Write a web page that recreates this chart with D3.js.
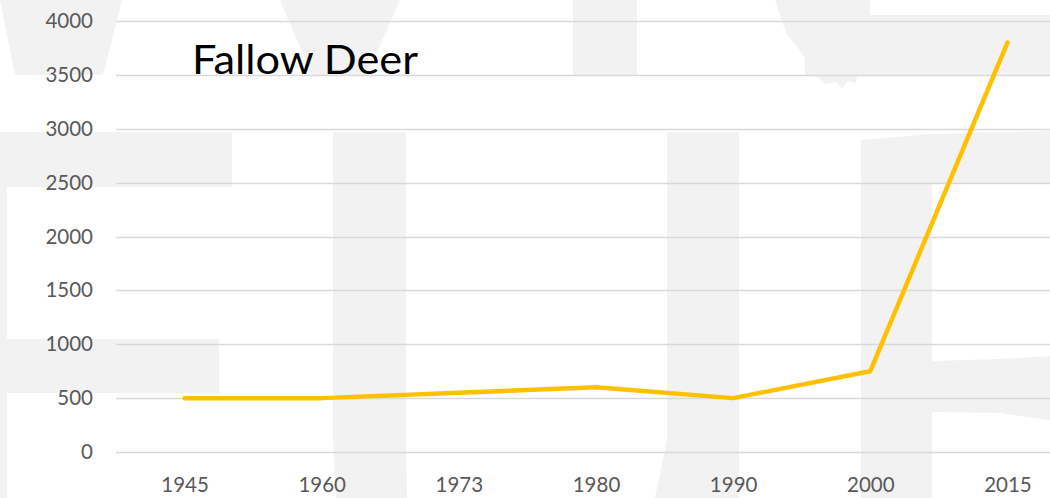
<!DOCTYPE html>
<html>
<head>
<meta charset="utf-8">
<script src="https://cdn.jsdelivr.net/npm/d3@7"></script>
<style>
html,body{margin:0;padding:0;background:#fff;overflow:hidden;}
svg{display:block;}
</style>
</head>
<body>
<svg id="chart" width="1050" height="498"></svg>
<script>
const years = ["1945","1960","1973","1980","1990","2000","2015"];
const deer = [500, 500, 550, 600, 500, 750, 3800];
const yTicks = [0,500,1000,1500,2000,2500,3000,3500,4000];
const title = "Fallow Deer";

const W = 1050, H = 498;
const svg = d3.select("#chart");

// faint background watermark shapes
const wm = svg.append("g").attr("fill","#f2f2f2");
const shapes = [
  [[0,0],[122,0],[103,75],[15,75]],
  [[280,0],[400,0],[367,75],[312,75]],
  [[0,132],[232,132],[232,187],[7,187],[7,339],[219,339],[219,393],[7,393],[7,498],[0,498]],
  [[333,132],[406,132],[406,438],[407,498],[336,498],[333,438]],
  [[573,0],[637,0],[637,75],[573,75]],
  [[667,132],[739,132],[739,498],[655,498],[667,440]],
  [[775,0],[870,0],[870,15],[1050,15],[1050,75],[858,75],[855,83],[848,81],[842,88],[836,82],[825,84],[818,77],[805,75],[805,58],[798,48],[788,36],[782,22]],
  [[861,140],[930,134],[1050,131],[1050,183],[932,183],[932,361],[1000,359],[1050,356],[1050,420],[1000,413],[932,412],[932,498],[861,498]]
];
wm.selectAll("path").data(shapes).join("path")
  .attr("d", d => "M" + d.map(p => p.join(",")).join("L") + "Z");

const x = d3.scalePoint().domain(years).range([116, 1076]).padding(0.5);
const y = d3.scaleLinear().domain([0, 4000]).range([452, 21]);

// gridlines
svg.append("g").selectAll("line").data(yTicks).join("line")
  .attr("x1", 116).attr("x2", W)
  .attr("y1", d => Math.round(y(d)) + 0.5).attr("y2", d => Math.round(y(d)) + 0.5)
  .attr("stroke", "#d9d9d9").attr("stroke-width", 1.3);

// y axis labels
const yAxis = d3.axisLeft(y).tickValues(yTicks).tickSize(0).tickPadding(0).tickFormat(d3.format("d"));
const gy = svg.append("g").attr("transform","translate(93,0)").call(yAxis);
gy.select(".domain").remove();
gy.selectAll("text").attr("font-family","Lato, 'Open Sans', sans-serif")
  .attr("font-size", 20.5).attr("fill","#595959");

// x axis labels
const xAxis = d3.axisBottom(x).tickSize(0).tickPadding(0);
const gx = svg.append("g").attr("transform","translate(0,477)").call(xAxis);
gx.select(".domain").remove();
gx.selectAll("text").attr("font-family","Lato, 'Open Sans', sans-serif")
  .attr("font-size", 20.5).attr("fill","#595959").attr("dy","0.71em");

// line
const line = d3.line().x((d,i) => x(years[i])).y(d => y(d));
svg.append("path").datum(deer)
  .attr("d", line)
  .attr("fill","none").attr("stroke","#FFC000").attr("stroke-width",4.5)
  .attr("stroke-linecap","round").attr("stroke-linejoin","round");

// title
svg.append("text").attr("x", 192).attr("y", 74)
  .attr("font-family","Lato, 'Open Sans', sans-serif").attr("font-size", 41)
  .attr("textLength", 226).attr("lengthAdjust","spacingAndGlyphs")
  .attr("fill","#000").text(title);
</script>
</body>
</html>
